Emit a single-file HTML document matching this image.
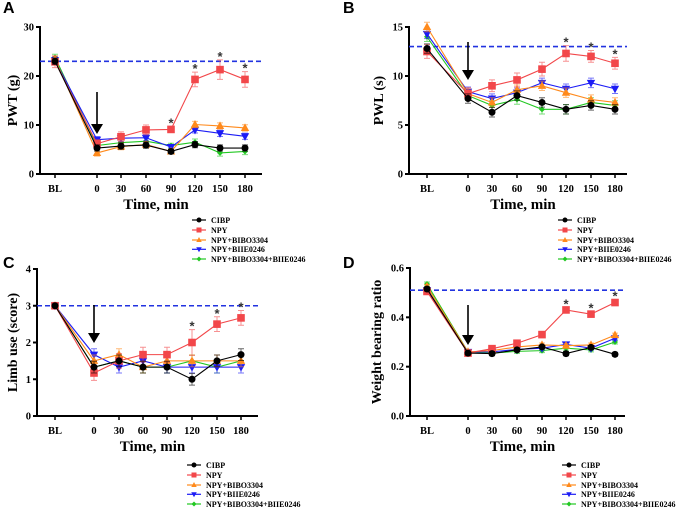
<!DOCTYPE html>
<html><head><meta charset="utf-8">
<style>
html,body{margin:0;padding:0;background:#fff;}
svg{display:block;font-family:"Liberation Serif",serif;}
.tk{font-size:10.5px;font-weight:bold;}
.lg{font-size:8px;font-weight:bold;}
</style></head>
<body>
<svg id="c" width="677" height="513" viewBox="0 0 677 513" xmlns="http://www.w3.org/2000/svg"></svg>
<script>
const categories = ["BL","0","30","60","90","120","150","180"];
const seriesNames = ["CIBP","NPY","NPY+BIBO3304","NPY+BIIE0246","NPY+BIBO3304+BIIE0246"];
const colors = ["#000000","#f2474a","#ff8a1c","#1c1cf5","#22c822"];
const shapes = ["circle","square","tri","tridown","diamond"];

const pwtCIBP = [23,5.3,5.7,5.9,4.6,6.0,5.3,5.3];
const pwtNPY = [22.9,6.2,7.6,9.0,9.1,19.3,21.3,19.3];
const pwtBIBO = [23.4,4.3,5.6,6.0,4.6,10.1,9.8,9.4];
const pwtBIIE = [23.2,7.0,7.3,7.4,5.5,9.0,8.3,7.7];
const pwtBoth = [23.8,5.8,6.4,6.7,5.8,6.5,4.3,4.6];

const pwlCIBP = [12.8,7.7,6.3,8.0,7.3,6.6,7.0,6.6];
const pwlNPY = [12.5,8.2,9.0,9.6,10.7,12.3,12.0,11.3];
const pwlBIBO = [15.0,8.2,7.3,8.6,9.0,8.3,7.6,7.3];
const pwlBIIE = [14.3,8.4,7.7,8.3,9.3,8.7,9.3,8.7];
const pwlBoth = [14.0,8.0,7.0,7.6,6.6,6.6,7.3,7.0];

const limbCIBP = [3,1.33,1.5,1.33,1.33,1.0,1.5,1.67];
const limbNPY = [3,1.17,1.5,1.67,1.67,2.0,2.5,2.67];
const limbBIBO = [3,1.5,1.67,1.33,1.5,1.5,1.5,1.5];
const limbBIIE = [3,1.67,1.33,1.5,1.33,1.33,1.33,1.33];
const limbBoth = [3,1.33,1.5,1.33,1.33,1.5,1.33,1.5];

const wbCIBP = [0.515,0.255,0.253,0.268,0.28,0.253,0.278,0.25];
const wbNPY = [0.505,0.255,0.273,0.295,0.33,0.43,0.413,0.46];
const wbBIBO = [0.525,0.26,0.265,0.28,0.288,0.285,0.288,0.328];
const wbBIIE = [0.51,0.26,0.26,0.27,0.275,0.29,0.275,0.315];
const wbBoth = [0.535,0.26,0.255,0.262,0.265,0.275,0.268,0.3];

const pwtErr = [1.2,0.8,1.0,1.0,0.6,1.5,2.0,1.6];
const pwlErr = [0.7,0.6,0.6,0.7,0.7,0.8,0.6,0.6];
const limbErr = [0,0.2,0.2,0.2,0.2,0.35,0.2,0.2];
const wbErr = [0.01,0.01,0.01,0.01,0.01,0.01,0.01,0.012];

const pwtTicks = [0,10,20,30];
const pwlTicks = [0,5,10,15];
const limbTicks = [0,1,2,3,4];
const wbTicks = ["0.0","0.2","0.4","0.6"];

const panels = [
 {label:"A",name:"pwt",lx:3,ly:13,x0:40,x1:262,yTop:27,yBot:174,max:30,ticks:pwtTicks,ylab:"PWT (g)",
  cx:[55,97,121,146,171,195,220,245],base:23,data:[pwtCIBP,pwtNPY,pwtBIBO,pwtBIIE,pwtBoth],err:pwtErr,stars:[4,5,6,7],
  arrow:[92,134],legX:192,legY:220,ylabX:12},
 {label:"B",name:"pwl",lx:343,ly:13,x0:409,x1:627,yTop:27,yBot:174,max:15,ticks:pwlTicks,ylab:"PWL (s)",
  cx:[427,468,492,517,542,566,591,615],base:13,data:[pwlCIBP,pwlNPY,pwlBIBO,pwlBIIE,pwlBoth],err:pwlErr,stars:[5,6,7],
  arrow:[42,80],legX:558,legY:220,ylabX:378},
 {label:"C",name:"limb",lx:3,ly:268,x0:37,x1:258,yTop:269,yBot:416,max:4,ticks:limbTicks,ylab:"Limb use (score)",
  cx:[55,94,119,143,167,192,217,241],base:3,data:[limbCIBP,limbNPY,limbBIBO,limbBIIE,limbBoth],err:limbErr,stars:[5,6,7],
  arrow:[305,343],legX:187,legY:465,ylabX:12},
 {label:"D",name:"wb",lx:343,ly:268,x0:410,x1:625,yTop:268,yBot:416,max:0.6,ticks:wbTicks,ylab:"Weight bearing ratio",
  cx:[427,468,492,517,542,566,591,615],base:0.51,data:[wbCIBP,wbNPY,wbBIBO,wbBIIE,wbBoth],err:wbErr,stars:[5,6,7],
  arrow:[305,345],legX:562,legY:465,ylabX:376}
];

const svg = document.getElementById('c');
const NS = "http://www.w3.org/2000/svg";
function mk(tag, attrs, parent){
  const e = document.createElementNS(NS, tag);
  for (const k in attrs) e.setAttribute(k, attrs[k]);
  (parent||svg).appendChild(e);
  return e;
}
function marker(g, shape, x, y, col, s){
  let e;
  if (shape==="circle") e = mk('circle',{cx:x,cy:y,r:s,fill:col},g);
  else if (shape==="square") e = mk('rect',{x:x-s,y:y-s,width:2*s,height:2*s,fill:col},g);
  else if (shape==="tri") e = mk('polygon',{points:`${x},${y-s*1.2} ${x-s*1.1},${y+s*0.8} ${x+s*1.1},${y+s*0.8}`,fill:col},g);
  else if (shape==="tridown") e = mk('polygon',{points:`${x},${y+s*1.2} ${x-s*1.1},${y-s*0.8} ${x+s*1.1},${y-s*0.8}`,fill:col},g);
  else e = mk('polygon',{points:`${x},${y-s} ${x+s},${y} ${x},${y+s} ${x-s},${y}`,fill:col},g);
  return e;
}

panels.forEach(p=>{
  const g = mk('g',{});
  
  
  const ys = v => p.yBot - (v/p.max)*(p.yBot-p.yTop);
  const lab = mk('text',{x:p.lx,y:p.ly,'font-family':'Liberation Sans, sans-serif','font-size':16,'font-weight':'bold'},g);
  lab.textContent = p.label;
  
  
  const ya = mk('line',{x1:p.x0,y1:p.yTop-1,x2:p.x0,y2:p.yBot+1,stroke:'#000','stroke-width':2},g);
  
  
  const xa = mk('line',{x1:p.x0-1,y1:p.yBot,x2:p.x1,y2:p.yBot,stroke:'#000','stroke-width':2},g);
  
  
  p.ticks.forEach(t=>{
    const y = ys(parseFloat(t));
    mk('line',{x1:p.x0-4,y1:y,x2:p.x0,y2:y,stroke:'#000','stroke-width':2},g);
    const tt = mk('text',{x:p.x0-6,y:y+3.5,'text-anchor':'end',class:'tk'},g);
    tt.textContent = t;
    
    
  });
  categories.forEach((c,i)=>{
    const x = p.cx[i];
    mk('line',{x1:x,y1:p.yBot,x2:x,y2:p.yBot+4,stroke:'#000','stroke-width':1.5},g);
    const tt = mk('text',{x:x,y:p.yBot+18,'text-anchor':'middle',class:'tk'},g);
    tt.textContent = c;
    
    
  });
  const xt = mk('text',{x:(p.x0+p.x1)/2+5,y:p.yBot+35,'text-anchor':'middle','font-size':15,'font-weight':'bold'},g);
  xt.textContent = "Time, min";
  
  
  const ymid = (p.yTop+p.yBot)/2;
  const yt = mk('text',{x:p.ylabX,y:ymid,'text-anchor':'middle','font-size':14,'font-weight':'bold',transform:`rotate(-90 ${p.ylabX} ${ymid}) translate(0 5)`},g);
  yt.textContent = p.ylab;
  
  
  const bl = mk('line',{x1:p.x0,y1:ys(p.base),x2:p.x1,y2:ys(p.base),stroke:'#2233e0','stroke-width':1.6,'stroke-dasharray':'5,3'},g);
  
  
  for (let s=p.data.length-1; s>=0; s--){
    const sg = mk('g',{},g);
    
    
    const vals = p.data[s];
    const pts = vals.map((v,i)=>`${p.cx[i]},${ys(v)}`).join(' ');
    mk('polyline',{points:pts,fill:'none',stroke:colors[s],'stroke-width':1.1},sg);
    vals.forEach((v,i)=>{
      const e = s===1 ? p.err[i] : Math.min(p.err[i], p.err[1])*0.8;
      if (e>0){
        const x=p.cx[i], y1=ys(v+e), y2=ys(v-e);
        mk('path',{d:`M${x},${y1}V${y2}M${x-3},${y1}H${x+3}M${x-3},${y2}H${x+3}`,stroke:colors[s],'stroke-width':1,'stroke-opacity':0.6,fill:'none'},sg);
      }
      const m = marker(sg, shapes[s], p.cx[i], ys(v), colors[s], s===4?3:(s===0?3.5:3.8));
      
      
    });
  }
  p.stars.forEach(i=>{
    const v = p.data[1][i] + p.err[i];
    const st = mk('text',{x:p.cx[i],y:ys(v)+1,'text-anchor':'middle','font-family':'Liberation Sans, sans-serif','font-size':13,'font-weight':'bold',fill:'#333'},g);
    st.textContent = "*";
    
    
  });
  const ax = p.cx[1];
  const ag = mk('g',{},g);
  
  
  mk('line',{x1:ax,y1:p.arrow[0],x2:ax,y2:p.arrow[1]-8,stroke:'#000','stroke-width':1.6},ag);
  mk('polygon',{points:`${ax-6},${p.arrow[1]-10} ${ax+6},${p.arrow[1]-10} ${ax},${p.arrow[1]}`,fill:'#000'},ag);
  const lg = mk('g',{},g);
  
  
  const rows=[0,10,20,29.3,39];
  seriesNames.forEach((n,s)=>{
    const y = p.legY + rows[s];
    const eg = mk('g',{},lg);
    
    
    mk('line',{x1:p.legX,y1:y,x2:p.legX+14,y2:y,stroke:colors[s],'stroke-width':1.2},eg);
    marker(eg, shapes[s], p.legX+7, y, colors[s], 2.5);
    const t = mk('text',{x:p.legX+19,y:y+2.8,class:'lg'},eg);
    t.textContent = n;
  });
});
</script>
</body></html>
